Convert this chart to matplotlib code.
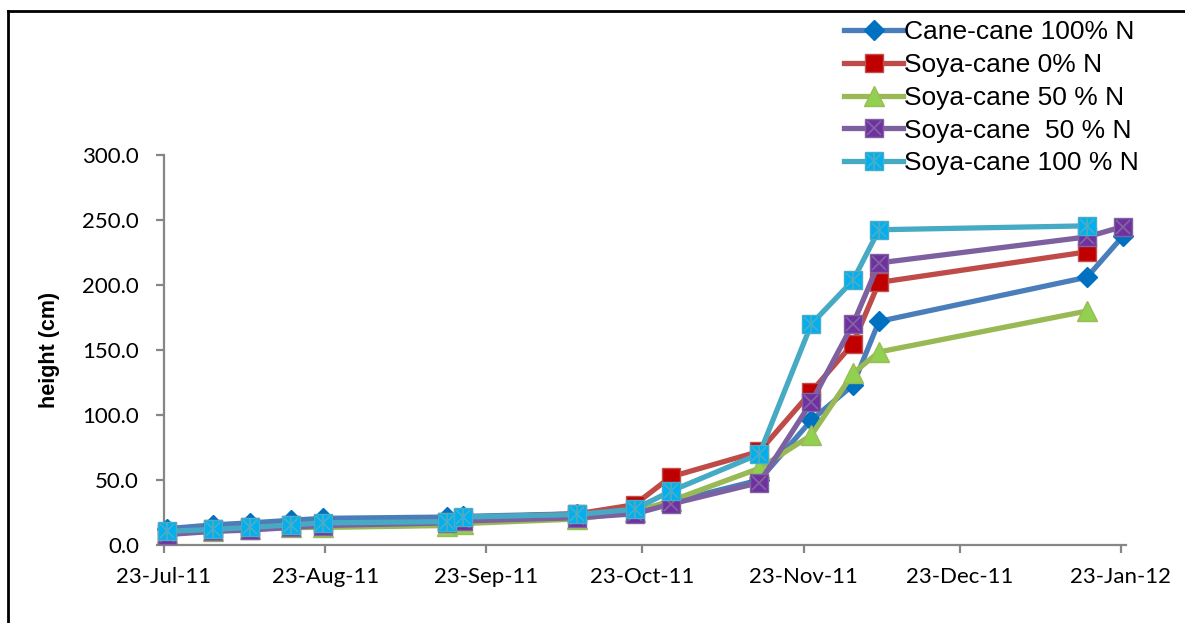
import numpy as np
import matplotlib
matplotlib.use("Agg")
import matplotlib.pyplot as plt
import matplotlib.dates as mdates
from matplotlib.lines import Line2D
from matplotlib.legend_handler import HandlerTuple
from datetime import datetime, timedelta

# sampling dates
dates = ["2011-07-23", "2011-08-01", "2011-08-08", "2011-08-16", "2011-08-22",
         "2011-09-15", "2011-09-18", "2011-10-10", "2011-10-21", "2011-10-28",
         "2011-11-14", "2011-11-24", "2011-12-02", "2011-12-07", "2012-01-16",
         "2012-01-23"]

nan = np.nan
cane_100 = [12.5, 15.5, 17, 19, 20.5, 21.5, 22, 24, 26, 33, 50, 96, 123, 172, 206, 238]
soya_0 = [10, 12, 13.5, 15.5, 16.5, 18, 21, 24, 31, 52.5, 72, 118, 155, 202, 225.5, nan]
soya_50a = [9, 11, 12.5, 13.5, 13.5, 15, 16.5, 20, 25.5, 34, 59, 84.5, 132, 148.5, 180, nan]
soya_50b = [8, 10.5, 11.5, 13.5, 15, 17, 18.5, 21, 24, 31.5, 48, 110, 170, 217, 237, 245]
soya_100 = [10.5, 12, 13.5, 15.5, 17, 18, 21.5, 23.5, 27.5, 41.5, 70, 170, 203.5, 242.5, 245.5, nan]

labels = ["Cane-cane 100% N", "Soya-cane 0% N", "Soya-cane 50 % N",
          "Soya-cane  50 % N", "Soya-cane 100 % N"]
tick_dates = ["2011-07-23", "2011-08-23", "2011-09-23", "2011-10-23",
              "2011-11-23", "2011-12-23", "2012-01-23"]

# Excel puts points in the middle of the day
x = [datetime.strptime(d, "%Y-%m-%d") + timedelta(hours=12) for d in dates]

fig = plt.figure(figsize=(11.85, 6.23), dpi=100)
ax = fig.add_axes([164 / 1185, 1 - 545 / 623, (1126 - 164) / 1185, (545 - 155) / 623])

# (values, line colour, marker, face, edge, size, overlay marker, overlay colour)
styles = [
    (cane_100, "#4A7EBB", "D", "#0070C0", "#0070C0", 10, None, None),
    (soya_0, "#BE4B48", "s", "#C00000", "#C0504D", 12.5, None, None),
    (soya_50a, "#98B954", "^", "#92D050", "#9BBB59", 14, None, None),
    (soya_50b, "#7D60A0", "s", "#7030A0", "#8064A2", 13, "x", "#8064A2"),
    (soya_100, "#46AAC5", "s", "#00B0F0", "#4BACC6", 13, "*", "#4BACC6"),
]

handles = []
for i, (vals, lc, mk, mf, me, ms, ov, oc) in enumerate(styles):
    h = ax.plot(x, vals, color=lc, lw=3.8, marker=mk, ms=ms, mfc=mf, mec=me,
                mew=1, zorder=3 + i, clip_on=False)[0]
    hh = [h]
    if ov is not None:
        hh.append(ax.plot(x, vals, ls="none", marker="x", ms=ms * 0.75, color=oc,
                          mew=1.3, zorder=3 + i, clip_on=False)[0])
    if ov == "*":
        hh.append(ax.plot(x, vals, ls="none", marker="|", ms=ms * 0.95, color=oc,
                          mew=1.3, zorder=3 + i, clip_on=False)[0])
    handles.append(tuple(hh))

ax.set_ylim(0, 300)
ax.set_xlim(datetime(2011, 7, 23), datetime(2012, 1, 24))
ax.set_yticks(np.arange(0, 301, 50))
ax.yaxis.set_major_formatter(matplotlib.ticker.FormatStrFormatter("%.1f"))
ax.set_xticks([datetime.strptime(d, "%Y-%m-%d") for d in tick_dates])
ax.xaxis.set_major_formatter(mdates.DateFormatter("%d-%b-%y"))

for s in ["top", "right"]:
    ax.spines[s].set_visible(False)
for s in ["left", "bottom"]:
    ax.spines[s].set_color("#868686")
    ax.spines[s].set_linewidth(1.6)
ax.tick_params(axis="both", color="#868686", width=1.6, length=6,
               labelsize=16, labelcolor="black")
ax.tick_params(axis="y", pad=12)
ax.tick_params(axis="x", pad=10)
for lab in ax.get_xticklabels() + ax.get_yticklabels():
    lab.set_family("Lato")

ax.set_ylabel("height (cm)", family="Liberation Sans", fontweight="bold",
              fontsize=15.5, labelpad=16)

fig.legend(handles, labels, loc="upper left", bbox_to_anchor=(826 / 1185, 1 - 2 / 623),
           frameon=False, prop={"family": "Liberation Sans", "size": 19},
           handlelength=2.2, handletextpad=0.05, labelspacing=0.33, borderpad=0.2,
           handler_map={tuple: HandlerTuple(ndivide=1, pad=0)})

# border of the cropped chart area
fig.add_artist(Line2D([8 / 1185, 1], [1 - 11 / 623, 1 - 11 / 623], color="black", lw=2))
fig.add_artist(Line2D([8 / 1185, 8 / 1185], [0, 1 - 11 / 623], color="black", lw=2))

fig.savefig("out.png", dpi=100)
